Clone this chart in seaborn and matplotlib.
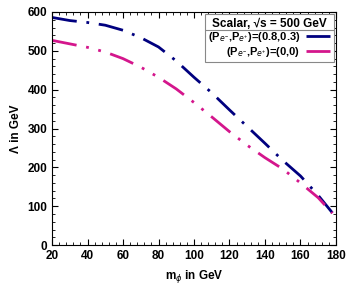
import matplotlib
matplotlib.use("Agg")
import matplotlib.pyplot as plt
import pandas as pd
import seaborn as sns
from matplotlib.lines import Line2D
from matplotlib.ticker import AutoMinorLocator, MultipleLocator

# --- data ---
m_phi = [20, 30, 40, 50, 60, 70, 80, 90, 100, 110, 120, 130, 140, 150, 160, 170, 178]
lam_pol = [586, 578, 573, 566, 553, 534, 510, 474, 432, 392, 348, 305, 262, 218, 178, 128, 83]
lam_unpol = [527, 518, 509, 497, 480, 458, 432, 402, 367, 330, 292, 257, 225, 196, 160, 122, 82]

LABELS = [r"(P$_{e^{-}}$,P$_{e^{+}}$)=(0.8,0.3)", r"(P$_{e^{-}}$,P$_{e^{+}}$)=(0,0)"]
COLORS = ["#00007f", "#d4168c"]
DASHES = [(9, 3.5, 1, 3.5), (9, 3.5, 1, 3.5, 1, 3.5)]

df = pd.concat([
    pd.DataFrame({"m": m_phi, "lam": lam_pol, "pol": LABELS[0]}),
    pd.DataFrame({"m": m_phi, "lam": lam_unpol, "pol": LABELS[1]}),
])

sns.set_style("ticks", {"axes.edgecolor": "black", "text.color": "black",
                        "axes.labelcolor": "black", "xtick.color": "black",
                        "ytick.color": "black"})
plt.rcParams["font.family"] = ["Liberation Sans", "DejaVu Sans"]
plt.rcParams["mathtext.fontset"] = "custom"
plt.rcParams["mathtext.rm"] = "Liberation Sans"

fig = plt.figure(figsize=(3.54, 3.0), dpi=100)
ax = fig.add_axes([0.147, 0.183, 0.802, 0.777])

sns.lineplot(data=df, x="m", y="lam", hue="pol", style="pol",
             palette=COLORS, dashes=DASHES, linewidth=2.0, ax=ax)

ax.set_xlim(20, 180)
ax.set_ylim(0, 600)
ax.xaxis.set_major_locator(MultipleLocator(20))
ax.yaxis.set_major_locator(MultipleLocator(100))
ax.xaxis.set_minor_locator(AutoMinorLocator(5))
ax.yaxis.set_minor_locator(AutoMinorLocator(5))
ax.tick_params(which="both", direction="in", top=True, right=True, labelsize=8.5)
ax.tick_params(which="major", length=4, width=0.8)
ax.tick_params(which="minor", length=2, width=0.6)
for lab in ax.get_xticklabels() + ax.get_yticklabels():
    lab.set_fontweight("bold")
for sp in ax.spines.values():
    sp.set_linewidth(0.8)

ax.set_xlabel(r"m$_\phi$ in GeV", fontsize=8.5, fontweight="bold")
ax.set_ylabel("Λ in GeV", fontsize=8.5, fontweight="bold")

leg = ax.legend(title="Scalar, √s = 500 GeV", loc="upper right",
                markerfirst=False, fontsize=8, title_fontsize=8.5,
                fancybox=False, edgecolor="#888888", framealpha=1,
                handlelength=2.2, handletextpad=0.5, borderaxespad=0.2,
                labelspacing=0.05, borderpad=0.3)
leg.get_title().set_fontweight("bold")
leg.get_frame().set_linewidth(0.8)
for t in leg.get_texts():
    t.set_fontweight("bold")
    t.set_ha("right")

# separator line under the legend title
fig.canvas.draw()
inv = fig.transFigure.inverted()
fb = leg.get_frame().get_window_extent()
tb = leg.get_title().get_window_extent()
y_sep = inv.transform((0, tb.y0 - 0.5))[1]
x0 = inv.transform((fb.x0, 0))[0]
x1 = inv.transform((fb.x1, 0))[0]
fig.add_artist(Line2D([x0, x1], [y_sep, y_sep], color="#888888", lw=0.8))

fig.savefig("out.png", dpi=100)
